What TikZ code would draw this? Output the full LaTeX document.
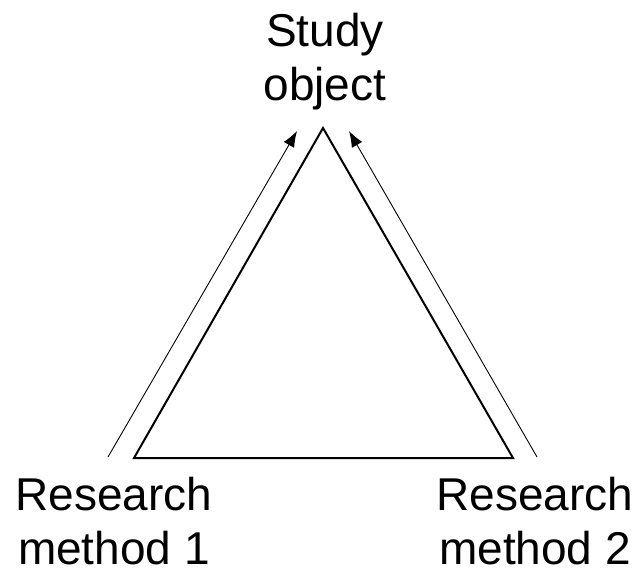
\documentclass[tikz,border=0pt]{standalone}
\usepackage{fontspec}
\setmainfont{Liberation Sans}
\usetikzlibrary{arrows.meta}
\begin{document}
\begin{tikzpicture}[x=1pt,y=1pt,
  label/.style={align=center,font=\fontsize{46}{54}\selectfont,inner sep=0pt},
  edge/.style={line width=2pt,line join=miter},
  pointer/.style={line width=0.9pt,-{Latex[length=16pt,width=12pt]}}]
  \useasboundingbox (0,0) rectangle (639,574);
  % triangle corners
  \coordinate (top) at (323,446);
  \coordinate (bl) at (134,116);
  \coordinate (br) at (513,116);
  \draw[edge] (top) -- (bl) -- (br) -- cycle;
  % arrows along the two sides
  \coordinate (a1s) at (108,117);
  \coordinate (a1e) at (297,443);
  \coordinate (a2s) at (537,117);
  \coordinate (a2e) at (349,443);
  \draw[pointer] (a1s) -- (a1e);
  \draw[pointer] (a2s) -- (a2e);
  % labels
  \node[label] (obj) at (325,512) {Study\\object};
  \node[label] (m1) at (114,53) {Research\\method 1};
  \node[label] (m2) at (535,53) {Research\\method 2};
\end{tikzpicture}
\end{document}
